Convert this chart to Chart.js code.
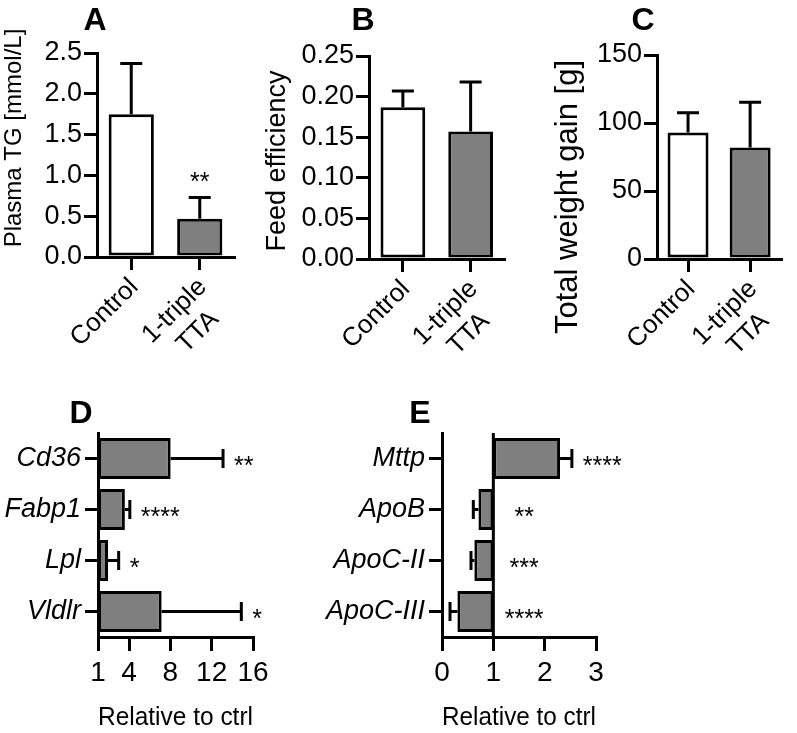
<!DOCTYPE html>
<html><head><meta charset="utf-8">
<script src="https://cdn.jsdelivr.net/npm/chart.js@4/dist/chart.umd.min.js"></script>
<style>
html,body{margin:0;padding:0;background:#fff;}
#fig{position:relative;width:797px;height:733px;overflow:hidden;background:#fff;}
canvas{position:absolute;}
</style></head><body>
<div id="fig">
<canvas id="cA" width="260" height="360" style="left:0;top:0"></canvas>
<canvas id="cB" width="260" height="360" style="left:260px;top:0"></canvas>
<canvas id="cC" width="277" height="360" style="left:520px;top:0"></canvas>
<canvas id="cD" width="290" height="373" style="left:0;top:360px"></canvas>
<canvas id="cE" width="340" height="373" style="left:290px;top:360px"></canvas>
</div>
<script>
// ---------- data ----------
const groups = ['Control', ['1-triple', 'TTA  ']];
const tgMean = [1.75, 0.47];
const tgErr = [2.37, 0.73];
const tgSig = ['', '**'];
const feMean = [0.187, 0.157];
const feErr = [0.207, 0.218];
const feSig = ['', ''];
const wgMean = [93, 82];
const wgErr = [107.5, 115.3];
const wgSig = ['', ''];
const uptakeGenes = ['Cd36', 'Fabp1', 'Lpl', 'Vldlr'];
const uptakeMean = [8.03, 3.6, 1.97, 7.16];
const uptakeErr = [13.1, 4.08, 3.0, 14.87];
const uptakeSig = ['**', '****', '*', '*'];
const lipoGenes = ['Mttp', 'ApoB', 'ApoC-II', 'ApoC-III'];
const lipoMean = [2.3, 0.71, 0.63, 0.30];
const lipoErr = [2.53, 0.61, 0.565, 0.156];
const lipoSig = ['****', '**', '***', '****'];
const uptakeTicks = [1, 4, 8, 12, 16];
const lipoTicks = [0, 1, 2, 3];
const barColors = ['#ffffff', '#7f7f7f'];
const hBarColor = '#7f7f7f';

// ---------- style ----------
const FAM = "'Liberation Sans', Arial, Helvetica, sans-serif";
Chart.defaults.font.family = FAM;
Chart.defaults.color = '#000';
const LW = 3;
function grid(len) { return {display: true, drawOnChartArea: false, drawTicks: true, tickLength: len, color: '#000', lineWidth: LW, offset: false}; }
const border = {display: true, color: '#000', width: LW};

// ---------- plugins ----------
function barEnd(raw) { return Array.isArray(raw) ? raw[1] : raw; }
function barBase(raw) { return Array.isArray(raw) ? raw[0] : 0; }

const errorBarPlugin = {
  id: 'errorBars',
  afterDatasetsDraw(chart, args, opts) {
    const ds = chart.data.datasets[0];
    const meta = chart.getDatasetMeta(0);
    const horiz = chart.options.indexAxis === 'y';
    const vs = horiz ? chart.scales.x : chart.scales.y;
    const ctx = chart.ctx;
    const half = opts.capWidth / 2;
    ctx.save();
    ctx.strokeStyle = '#000';
    ctx.lineWidth = LW;
    meta.data.forEach((bar, i) => {
      const b = vs.getPixelForValue(barEnd(ds.data[i]));
      const e = vs.getPixelForValue(ds.errorValues[i]);
      ctx.beginPath();
      if (horiz) {
        ctx.moveTo(b, bar.y); ctx.lineTo(e, bar.y);
        ctx.moveTo(e, bar.y - half); ctx.lineTo(e, bar.y + half);
      } else {
        ctx.moveTo(bar.x, b); ctx.lineTo(bar.x, e);
        ctx.moveTo(bar.x - half, e); ctx.lineTo(bar.x + half, e);
      }
      ctx.stroke();
    });
    ctx.restore();
  }
};

const sigPlugin = {
  id: 'sigStars',
  afterDatasetsDraw(chart, args, opts) {
    const ds = chart.data.datasets[0];
    const meta = chart.getDatasetMeta(0);
    const horiz = chart.options.indexAxis === 'y';
    const vs = horiz ? chart.scales.x : chart.scales.y;
    const ctx = chart.ctx;
    ctx.save();
    ctx.font = '25px ' + FAM;
    ctx.fillStyle = '#000';
    ctx.textBaseline = 'alphabetic';
    meta.data.forEach((bar, i) => {
      const s = ds.sigLabels[i];
      if (!s) return;
      const raw = ds.data[i];
      const e = vs.getPixelForValue(ds.errorValues[i]);
      if (!horiz) {
        ctx.textAlign = 'center';
        ctx.fillText(s, bar.x, e - opts.gap);
      } else if (barEnd(raw) >= barBase(raw)) {
        ctx.textAlign = 'left';
        ctx.fillText(s, e + opts.gap, bar.y + opts.dy);
      } else {
        ctx.textAlign = 'center';
        ctx.fillText(s, vs.getPixelForValue(opts.lowAnchor), bar.y + opts.dy);
      }
    });
    ctx.restore();
  }
};

const refLinePlugin = {
  id: 'refLine',
  afterDatasetsDraw(chart, args, opts) {
    if (opts.value === undefined) return;
    const x = chart.scales.x.getPixelForValue(opts.value);
    const a = chart.chartArea;
    const ctx = chart.ctx;
    ctx.save();
    ctx.strokeStyle = '#000';
    ctx.lineWidth = LW;
    ctx.beginPath();
    ctx.moveTo(x, a.top); ctx.lineTo(x, a.bottom);
    ctx.stroke();
    ctx.restore();
  }
};

const panelTextPlugin = {
  id: 'panelText',
  afterDraw(chart, args, opts) {
    const ctx = chart.ctx;
    (opts.items || []).forEach(it => {
      ctx.save();
      ctx.font = it.font;
      ctx.fillStyle = '#000';
      ctx.textAlign = 'center';
      ctx.textBaseline = it.baseline || 'middle';
      ctx.translate(it.x, it.y);
      if (it.rotate) ctx.rotate(it.rotate);
      ctx.fillText(it.text, 0, 0);
      ctx.restore();
    });
  }
};

// ---------- builders ----------
function vPanel(id, area, labels, means, errs, sig, yOpt, texts) {
  const cv = document.getElementById(id);
  const W = cv.width, H = cv.height;
  return new Chart(cv, {
    type: 'bar',
    data: {labels: labels, datasets: [{data: means, errorValues: errs, sigLabels: sig,
      backgroundColor: barColors, borderColor: '#000', borderWidth: LW, borderSkipped: false,
      barPercentage: 0.66, categoryPercentage: 1}]},
    options: {
      responsive: false, animation: false, events: [],
      layout: {padding: {left: 0, top: area.top, right: W - area.right, bottom: 0}},
      scales: {
        x: {type: 'category', offset: true, grid: grid(13), border: border,
            ticks: {font: {size: 26}, minRotation: 45, maxRotation: 45, autoSkip: false, padding: 2, labelOffset: 3},
            afterFit(s) { s.height = H - area.bottom; }},
        y: {type: 'linear', min: 0, max: yOpt.max, grid: grid(13), border: border,
            ticks: {stepSize: yOpt.step, font: {size: 27}, padding: 2, callback: v => Number(v).toFixed(yOpt.dec)},
            afterFit(s) { s.width = area.left; }}
      },
      plugins: {legend: {display: false}, tooltip: {enabled: false},
        errorBars: {capWidth: 22}, sigStars: {gap: 7}, panelText: {items: texts}}
    },
    plugins: [errorBarPlugin, sigPlugin, panelTextPlugin]
  });
}

function hPanel(id, area, labels, means, errs, sig, xOpt, texts, ref) {
  const cv = document.getElementById(id);
  const W = cv.width, H = cv.height;
  return new Chart(cv, {
    type: 'bar',
    data: {labels: labels, datasets: [{data: means.map(v => [1, v]), errorValues: errs, sigLabels: sig,
      backgroundColor: hBarColor, borderColor: '#000', borderWidth: LW, borderSkipped: false,
      barPercentage: 0.8, categoryPercentage: 1}]},
    options: {
      indexAxis: 'y', responsive: false, animation: false, events: [],
      layout: {padding: {left: 0, top: area.top, right: W - area.right, bottom: 0}},
      scales: {
        y: {type: 'category', offset: true, grid: grid(13), border: border,
            ticks: {font: {size: 27, style: 'italic'}, padding: 4, autoSkip: false},
            afterFit(s) { s.width = area.left; }},
        x: {type: 'linear', min: xOpt.min, max: xOpt.max, grid: grid(14), border: border,
            ticks: {font: {size: 28}, padding: 5, autoSkip: false},
            afterBuildTicks(s) { s.ticks = xOpt.ticks.map(v => ({value: v})); },
            title: {display: true, text: 'Relative to ctrl', font: {size: 26}, padding: {top: 0, bottom: 0}},
            afterFit(s) { s.height = H - area.bottom; }}
      },
      plugins: {legend: {display: false}, tooltip: {enabled: false},
        errorBars: {capWidth: 19}, sigStars: {gap: 11, dy: 15, lowAnchor: 1.6},
        refLine: {value: ref}, panelText: {items: texts}}
    },
    plugins: [errorBarPlugin, sigPlugin, refLinePlugin, panelTextPlugin]
  });
}

const LETTER = 'bold 32px ' + FAM;
const rot = -Math.PI / 2;

vPanel('cA', {left: 97, top: 53, right: 234, bottom: 257}, groups, tgMean, tgErr, tgSig,
  {max: 2.5, step: 0.5, dec: 1},
  [{text: 'A', x: 95, y: 30, font: LETTER, baseline: 'alphabetic'},
   {text: 'Plasma TG [mmol/L]', x: 14, y: 138, font: '24px ' + FAM, rotate: rot}]);

vPanel('cB', {left: 109, top: 56, right: 247, bottom: 259}, groups, feMean, feErr, feSig,
  {max: 0.25, step: 0.05, dec: 2},
  [{text: 'B', x: 103, y: 30, font: LETTER, baseline: 'alphabetic'},
   {text: 'Feed efficiency', x: 18, y: 161, font: '27px ' + FAM, rotate: rot}]);

vPanel('cC', {left: 137, top: 55, right: 274, bottom: 259}, groups, wgMean, wgErr, wgSig,
  {max: 150, step: 50, dec: 0},
  [{text: 'C', x: 123, y: 30, font: LETTER, baseline: 'alphabetic'},
   {text: 'Total weight gain [g]', x: 48, y: 197, font: '31px ' + FAM, rotate: rot}]);

hPanel('cD', {left: 98, top: 73, right: 253, bottom: 277}, uptakeGenes, uptakeMean, uptakeErr, uptakeSig,
  {min: 1, max: 16, ticks: uptakeTicks},
  [{text: 'D', x: 81, y: 63, font: LETTER, baseline: 'alphabetic'}], undefined);

hPanel('cE', {left: 152, top: 73, right: 306, bottom: 277}, lipoGenes, lipoMean, lipoErr, lipoSig,
  {min: 0, max: 3, ticks: lipoTicks},
  [{text: 'E', x: 130, y: 63, font: LETTER, baseline: 'alphabetic'}], 1);
</script>
</body></html>
